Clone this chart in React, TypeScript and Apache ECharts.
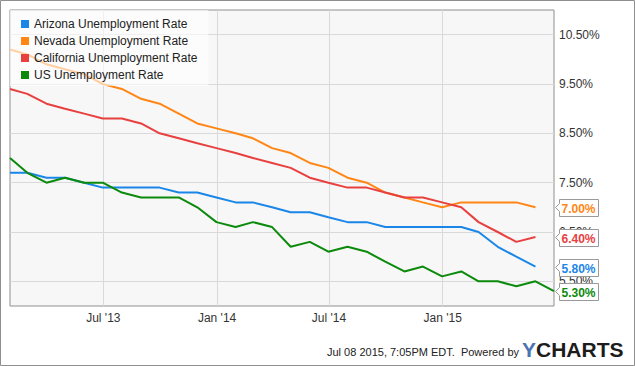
import React, { useEffect, useRef } from 'react';
import * as echarts from 'echarts';

const dates = [
  '2013-01-31', '2013-02-28', '2013-03-31', '2013-04-30', '2013-05-31', '2013-06-30',
  '2013-07-31', '2013-08-31', '2013-09-30', '2013-10-31', '2013-11-30', '2013-12-31',
  '2014-01-31', '2014-02-28', '2014-03-31', '2014-04-30', '2014-05-31', '2014-06-30',
  '2014-07-31', '2014-08-31', '2014-09-30', '2014-10-31', '2014-11-30', '2014-12-31',
  '2015-01-31', '2015-02-28', '2015-03-31', '2015-04-30', '2015-05-31', '2015-06-30',
];

const arizona = [7.7, 7.7, 7.6, 7.6, 7.5, 7.4, 7.4, 7.4, 7.4, 7.3, 7.3, 7.2, 7.1, 7.1, 7.0, 6.9, 6.9, 6.8, 6.7, 6.7, 6.6, 6.6, 6.6, 6.6, 6.6, 6.5, 6.2, 6.0, 5.8];
const nevada = [10.2, 10.1, 9.9, 9.8, 9.7, 9.5, 9.4, 9.2, 9.1, 8.9, 8.7, 8.6, 8.5, 8.4, 8.2, 8.1, 7.9, 7.8, 7.6, 7.5, 7.3, 7.2, 7.1, 7.0, 7.1, 7.1, 7.1, 7.1, 7.0];
const california = [9.4, 9.3, 9.1, 9.0, 8.9, 8.8, 8.8, 8.7, 8.5, 8.4, 8.3, 8.2, 8.1, 8.0, 7.9, 7.8, 7.6, 7.5, 7.4, 7.4, 7.3, 7.2, 7.2, 7.1, 7.0, 6.7, 6.5, 6.3, 6.4];
const usRate = [8.0, 7.7, 7.5, 7.6, 7.5, 7.5, 7.3, 7.2, 7.2, 7.2, 7.0, 6.7, 6.6, 6.7, 6.6, 6.2, 6.3, 6.1, 6.2, 6.1, 5.9, 5.7, 5.8, 5.6, 5.7, 5.5, 5.5, 5.4, 5.5, 5.3];

const seriesNames = ['Arizona Unemployment Rate', 'Nevada Unemployment Rate', 'California Unemployment Rate', 'US Unemployment Rate'];
const seriesValues = [arizona, nevada, california, usRate];
const colors = ['#1a86e8', '#ff8614', '#e8403f', '#0b8a0b'];

const xTickDates = ['2013-07-01', '2014-01-01', '2014-07-01', '2015-01-01'];
const xTickLabels = ["Jul '13", "Jan '14", "Jul '14", "Jan '15"];
const xStart = '2013-01-31';
const xEnd = '2015-06-30';
const yMin = 5;
const yMax = 11;
const yStep = 0.5;

const FONT = "'Liberation Sans', Arial, sans-serif";

function ts(d: string) {
  const [y, m, dd] = d.split('-').map(Number);
  return Date.UTC(y, m - 1, dd);
}

export default function App() {
  const ref = useRef<HTMLDivElement>(null);
  useEffect(() => {
    document.body.style.margin = '0';
    const chart = echarts.init(ref.current!, null, { renderer: 'svg' });
    const tickTs = xTickDates.map(ts);
    const option: any = {
      animation: false,
      backgroundColor: '#ffffff',
      grid: {
        left: 10, top: 10, right: 81, bottom: 60,
        show: true, backgroundColor: '#f7f7f7', borderColor: '#8f8f8f', borderWidth: 1,
      },
      legend: {
        orient: 'vertical', left: 10, top: 10,
        padding: [7, 11, 4, 11],
        itemGap: 3, itemWidth: 8, itemHeight: 8, icon: 'rect',
        backgroundColor: 'rgba(255,255,255,0.6)',
        textStyle: { fontSize: 12, color: '#222', fontFamily: FONT, lineHeight: 14 },
        data: seriesNames,
      },
      xAxis: {
        type: 'value',
        min: ts(xStart), max: ts(xEnd),
        axisLine: { show: false },
        axisTick: { show: false, customValues: tickTs },
        axisLabel: {
          customValues: tickTs,
          margin: 6,
          fontSize: 12, color: '#333', fontFamily: FONT,
          formatter: (v: number) => {
            const i = tickTs.indexOf(v);
            return i >= 0 ? xTickLabels[i] : '';
          },
        },
        splitLine: { show: true, lineStyle: { color: '#d9d9d9', width: 1 } },
      },
      yAxis: {
        type: 'value', position: 'right',
        min: yMin, max: yMax, interval: yStep,
        axisLine: { show: false },
        axisTick: { show: false },
        axisLabel: {
          margin: 5, fontSize: 12, color: '#333', fontFamily: FONT,
          formatter: (v: number) => (Math.round(v * 2) % 2 === 1 ? v.toFixed(2) + '%' : ''),
        },
        splitLine: { show: true, lineStyle: { color: ['rgba(0,0,0,0)', '#d9d9d9'], width: 1 } },
      },
      series: seriesNames.map((name, i) => ({
        name, type: 'line', symbol: 'none',
        lineStyle: { width: 2, color: colors[i] },
        itemStyle: { color: colors[i] },
        data: seriesValues[i].map((v, j) => [ts(dates[j]), v]),
      })),
    };
    chart.setOption(option);

    const xRight = chart.convertToPixel({ xAxisIndex: 0 }, ts(xEnd)) as number;
    const elements: any[] = [];
    seriesValues.forEach((arr, i) => {
      const v = arr[arr.length - 1];
      const y = Math.round(chart.convertToPixel({ yAxisIndex: 0 }, v) as number) + 0.5;
      const x = Math.round(xRight) + 0.5;
      elements.push({
        type: 'polygon', z: 100,
        shape: {
          points: [[x + 1, y], [x + 5, y - 4], [x + 5, y - 8], [x + 44, y - 8], [x + 44, y + 9], [x + 5, y + 9], [x + 5, y + 4]],
        },
        style: { fill: '#ffffff', stroke: '#999999', lineWidth: 1 },
      });
      elements.push({
        type: 'text', z: 101,
        style: {
          text: v.toFixed(2) + '%', x: x + 7, y: y + 1,
          fill: colors[i], font: `bold 12px ${FONT}`,
          textAlign: 'left', textVerticalAlign: 'middle',
        },
      });
    });
    elements.push({
      type: 'rect', z: 100,
      shape: { x: 0.5, y: 0.5, width: 634, height: 365 },
      style: { fill: 'none', stroke: '#8f8f8f', lineWidth: 1 },
    });
    elements.push({
      type: 'text', z: 100,
      style: {
        text: 'Jul 08 2015, 7:05PM EDT.  Powered by', x: 519, y: 352,
        fill: '#222', font: `11px ${FONT}`, textAlign: 'right', textVerticalAlign: 'middle',
      },
    });
    elements.push({
      type: 'text', z: 100,
      style: {
        text: '{a|Y}{b|CHARTS}', x: 522, y: 349,
        textAlign: 'left', textVerticalAlign: 'middle',
        rich: {
          a: { fill: '#4a74b0', font: `bold 21px ${FONT}` },
          b: { fill: '#1c1c1c', font: `bold 21px ${FONT}` },
        },
      },
    });
    chart.setOption({ graphic: { elements } });

    return () => chart.dispose();
  }, []);
  return <div ref={ref} style={{ position: 'fixed', left: 0, top: 0, width: 635, height: 366 }} />;
}
